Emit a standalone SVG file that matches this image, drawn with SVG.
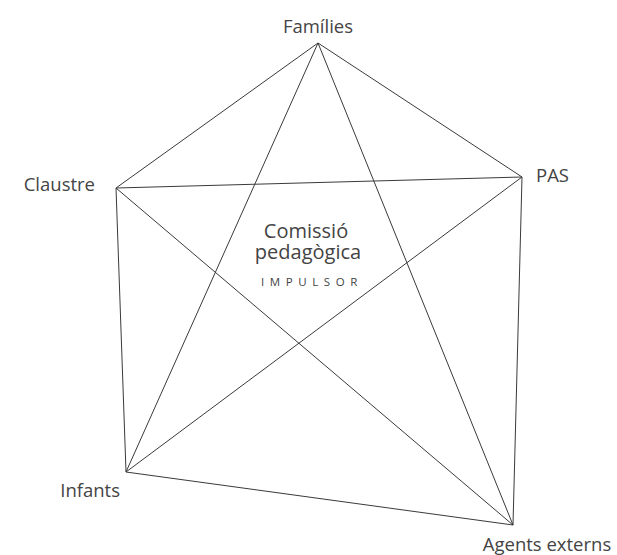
<svg xmlns="http://www.w3.org/2000/svg" width="617" height="555" viewBox="0 0 617 555">
  <style>
    .edge { stroke: #3a3a3a; stroke-width: 1; fill: none; }
    .label { font-family: "Open Sans", "Noto Sans", sans-serif; font-size: 18.5px; fill: #444444; font-weight: 400; }
    .center { font-family: "Open Sans", "Noto Sans", sans-serif; font-size: 20px; fill: #444444; font-weight: 400; text-anchor: middle; }
    .small { font-family: "Open Sans", "Noto Sans", sans-serif; font-size: 11.5px; fill: #444444; letter-spacing: 5.6px; text-anchor: middle; }
  </style>
  <rect width="617" height="555" fill="#ffffff"/>
  <!-- Connectors: every actor linked to every other -->
  <g id="connectors">
    <line class="edge" x1="318" y1="43" x2="116" y2="188"/>
    <line class="edge" x1="318" y1="43" x2="522" y2="177"/>
    <line class="edge" x1="318" y1="43" x2="126" y2="472"/>
    <line class="edge" x1="318" y1="43" x2="513" y2="525"/>
    <line class="edge" x1="116" y1="188" x2="522" y2="177"/>
    <line class="edge" x1="116" y1="188" x2="126" y2="472"/>
    <line class="edge" x1="116" y1="188" x2="513" y2="525"/>
    <line class="edge" x1="522" y1="177" x2="126" y2="472"/>
    <line class="edge" x1="522" y1="177" x2="513" y2="525"/>
    <line class="edge" x1="126" y1="472" x2="513" y2="525"/>
  </g>
  <g id="families"><text class="label" x="318" y="33" text-anchor="middle">Famílies</text></g>
  <g id="claustre"><text class="label" x="95" y="191" text-anchor="end">Claustre</text></g>
  <g id="pas"><text class="label" x="536" y="182">PAS</text></g>
  <g id="infants"><text class="label" x="120" y="497" text-anchor="end">Infants</text></g>
  <g id="agents-externs"><text class="label" x="547" y="551" text-anchor="middle">Agents externs</text></g>
  <g id="comissio">
    <text class="center"><tspan x="306" y="238">Comissió</tspan><tspan x="308" y="259">pedagògica</tspan></text>
    <text class="small" x="312" y="286">IMPULSOR</text>
  </g>
</svg>
